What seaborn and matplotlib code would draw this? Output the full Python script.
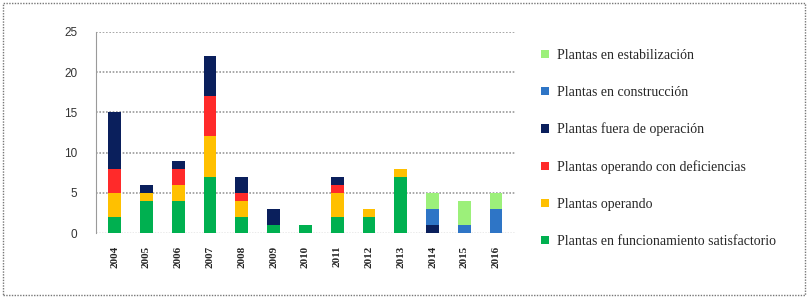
import matplotlib
matplotlib.use("Agg")
import matplotlib.pyplot as plt
from matplotlib.patches import Rectangle, Patch
import pandas as pd
import seaborn as sns

years = ["2004", "2005", "2006", "2007", "2008", "2009", "2010",
         "2011", "2012", "2013", "2014", "2015", "2016"]

satisfactorio = [2, 4, 4, 7, 2, 1, 1, 2, 2, 7, 0, 0, 0]
operando = [3, 1, 2, 5, 2, 0, 0, 3, 1, 1, 0, 0, 0]
deficiencias = [3, 0, 2, 5, 1, 0, 0, 1, 0, 0, 0, 0, 0]
fuera_operacion = [7, 1, 1, 5, 2, 2, 0, 1, 0, 0, 1, 0, 0]
construccion = [0, 0, 0, 0, 0, 0, 0, 0, 0, 0, 2, 1, 3]
estabilizacion = [0, 0, 0, 0, 0, 0, 0, 0, 0, 0, 2, 3, 2]

series = [
    ("Plantas en funcionamiento satisfactorio", satisfactorio, "#00B050"),
    ("Plantas operando", operando, "#FFC000"),
    ("Plantas operando con deficiencias", deficiencias, "#FF2A2A"),
    ("Plantas fuera de operación", fuera_operacion, "#0A1F5C"),
    ("Plantas en construcción", construccion, "#2E75C6"),
    ("Plantas en estabilización", estabilizacion, "#9CF07A"),
]

# cumulative totals for stacking
df = pd.DataFrame({"year": years})
running = [0] * len(years)
for name, vals, _ in series:
    running = [a + b for a, b in zip(running, vals)]
    df[name] = running

sns.set_style("white")
fig = plt.figure(figsize=(8.1, 2.98), dpi=100)
ax = fig.add_axes([0.118, 0.218, 0.518, 0.675])

# draw tallest stack first, lower segments on top of it
for name, _, color in reversed(series):
    sns.barplot(data=df, x="year", y=name, color=color, width=0.4,
                saturation=1, ax=ax, edgecolor="none")

ax.set_xlim(-0.6, 12.6)
ax.set_ylim(0, 25)
ax.set_yticks([0, 5, 10, 15, 20, 25])
ax.set_xlabel("")
ax.set_ylabel("")
for y in [5, 10, 15, 20, 25]:
    ax.axhline(y, color="#9A9A9A", lw=1.2, ls=(0, (1, 1)), zorder=0)
ax.axhline(0, color="#9A9A9A", lw=1.0, ls=(0, (1, 1)), zorder=0)
for s in ["top", "right", "bottom"]:
    ax.spines[s].set_visible(False)
ax.spines["left"].set_color("#9A9A9A")
ax.spines["left"].set_linestyle((0, (1, 1)))
ax.tick_params(axis="y", labelsize=8.5, length=3, color="#9A9A9A", pad=10)
ax.tick_params(axis="x", labelsize=8, length=3, color="#9A9A9A", rotation=90, pad=6)
for lab in ax.get_xticklabels():
    lab.set_family("Liberation Serif")
    lab.set_fontweight("bold")
for lab in ax.get_yticklabels():
    lab.set_family("Liberation Sans")
    lab.set_color("#333333")

handles = [Patch(facecolor=c, edgecolor="none", label=n) for n, _, c in reversed(series)]
fig.legend(handles=handles, loc="upper left", bbox_to_anchor=(0.661, 0.855),
           frameon=False, prop={"family": "Liberation Serif", "size": 10},
           labelspacing=1.72, handlelength=0.55, handleheight=0.55,
           handletextpad=0.6, borderaxespad=0)

fig.patches.append(Rectangle((0.004, 0.01), 0.99, 0.98, transform=fig.transFigure,
                             fill=False, edgecolor="#777777", lw=1.0,
                             ls=(0, (1, 1))))

fig.savefig("out.png", dpi=100)
